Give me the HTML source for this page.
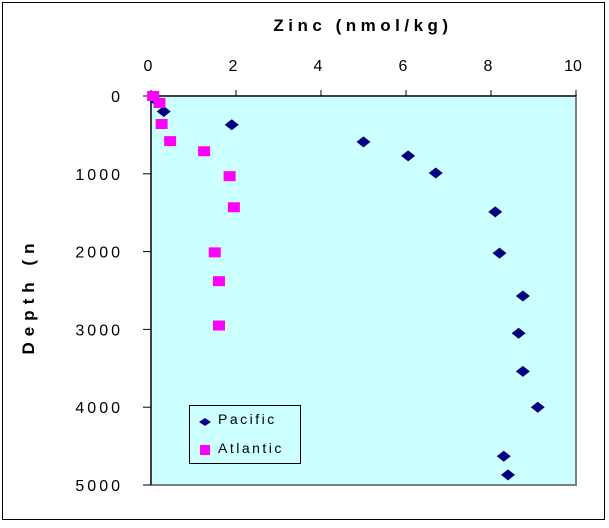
<!DOCTYPE html>
<html><head><meta charset="utf-8"><style>
body{margin:0;background:#fff;}
svg text{font-family:"Liberation Sans",Arial,sans-serif;}
</style></head><body>
<svg id="c" width="609" height="523" xmlns="http://www.w3.org/2000/svg">
<rect x="2.5" y="2.5" width="602" height="517" fill="#fff" stroke="#000"/>
<rect x="151" y="96" width="425" height="389" fill="#ccffff" stroke="#808080" stroke-width="2"/>
<line x1="151" y1="96" x2="151" y2="485" stroke="#000"/>
<line x1="151" y1="96" x2="576" y2="96" stroke="#000"/>
<text x="363" y="31" text-anchor="middle" font-size="17" font-weight="bold" letter-spacing="4.5">Zinc (nmol/kg)</text>
<text transform="translate(34,296) rotate(-90)" text-anchor="middle" font-size="17" font-weight="bold" letter-spacing="6">Depth (n</text>
<g id="ax"></g><g id="marks"></g>
<g>
<rect x="189.5" y="405.5" width="111" height="58" fill="#ccffff" stroke="#000"/>
<path d="M199 422 l6 -4 l6 4 l-6 4 z" fill="#000080"/>
<text x="218" y="424" font-size="14" letter-spacing="2.5">Pacific</text>
<rect x="200" y="445" width="10" height="10" fill="#ff00ff"/>
<text x="218" y="453" font-size="14" letter-spacing="2.5">Atlantic</text>
</g>
</svg>
<script>
const xTicks=[0,2,4,6,8,10];
const yTicks=[0,1000,2000,3000,4000,5000];
const pacificZinc=[0.1,0.3,1.9,5.0,6.05,6.7,8.1,8.2,8.75,8.65,8.75,9.1,8.3,8.4];
const pacificDepth=[50,200,370,590,770,990,1490,2020,2570,3050,3540,4000,4630,4870];
const atlanticZinc=[0.05,0.2,0.25,0.45,1.25,1.85,1.95,1.5,1.6,1.6];
const atlanticDepth=[0,90,360,580,710,1030,1430,2010,2380,2950];
const X=v=>151+v*42.5, Y=d=>96+d*0.0778;
const NS="http://www.w3.org/2000/svg";
const ax=document.getElementById('ax'), mk=document.getElementById('marks');
function el(t,a,p){const e=document.createElementNS(NS,t);for(const k in a)e.setAttribute(k,a[k]);p.appendChild(e);return e;}
xTicks.forEach(v=>{
 const l=el('line',{x1:X(v),x2:X(v),y1:90,y2:96,stroke:'#000'},ax);
 
 
 const t=el('text',{x:X(v)-3,y:71,'text-anchor':'middle','font-size':16},ax);t.textContent=v;
 
 
});
yTicks.forEach(v=>{
 const l=el('line',{x1:143,x2:151,y1:Y(v),y2:Y(v),stroke:'#000'},ax);
 
 
 const t=el('text',{x:123,y:Y(v)+6,'text-anchor':'end','font-size':16,'letter-spacing':'3'},ax);t.textContent=v;
 
 
});
pacificZinc.forEach((z,i)=>{
 const x=X(z),y=Y(pacificDepth[i]);
 const p=el('path',{d:`M${x-7} ${y} L${x} ${y-5.5} L${x+7} ${y} L${x} ${y+5.5} Z`,fill:'#000080'},mk);
 
 
});
atlanticZinc.forEach((z,i)=>{
 const x=X(z),y=Y(atlanticDepth[i]);
 const r=el('rect',{x:x-6,y:y-5,width:12,height:10,fill:'#ff00ff'},mk);
 
 
});
</script>
</body></html>
